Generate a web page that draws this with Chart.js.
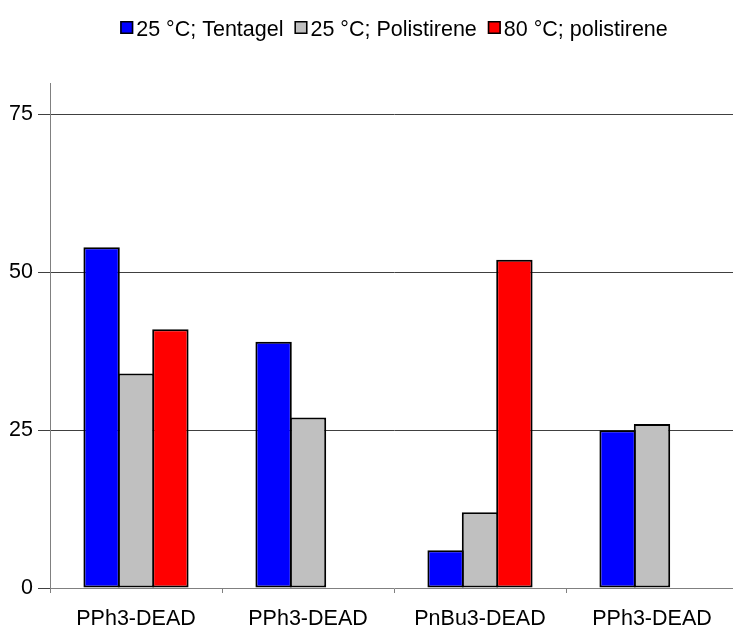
<!DOCTYPE html>
<html>
<head>
<meta charset="utf-8">
<script src="https://cdn.jsdelivr.net/npm/chart.js@4"></script>
<style>
  html, body { margin: 0; padding: 0; overflow: hidden; background: #fff; }
  #wrap { width: 741px; height: 630px; }
</style>
</head>
<body>
<div id="wrap"><canvas id="c" width="741" height="630"></canvas></div>
<script>
// Catalyst systems on the x axis
const categories = ['PPh3-DEAD', 'PPh3-DEAD', 'PnBu3-DEAD', 'PPh3-DEAD'];
// Series labels
const seriesLabels = ['25 °C; Tentagel', '25 °C; Polistirene', '80 °C; polistirene'];
// Series values
const tentagel25 = [54, 39, 6, 25];
const polistirene25 = [34, 27, 12, 26];
const polistirene80 = [41, null, 52, null];
// Value axis
const yTicks = [0, 25, 50, 75];
const yMax = 80;

const FONT_FAMILY = '"Liberation Sans", Arial, Helvetica, sans-serif';
const FONT_SIZE = 21.5;

// Legend row above the plot: small bordered swatches followed by the series name
const topLegend = {
  id: 'topLegend',
  afterDraw(chart) {
    const ctx = chart.ctx;
    ctx.save();
    ctx.font = FONT_SIZE + 'px ' + FONT_FAMILY;
    ctx.textBaseline = 'alphabetic';
    const box = 13, gapText = 3, gapItem = 11, boxTop = 21, baseline = 36;
    const items = chart.data.datasets.map(d => ({
      label: d.label, color: d.backgroundColor, w: ctx.measureText(d.label).width
    }));
    const total = items.reduce((s, it) => s + box + gapText + it.w, 0) + gapItem * (items.length - 1);
    let x = (chart.chartArea.left + chart.chartArea.right) / 2 - total / 2;
    items.forEach(it => {
      ctx.fillStyle = it.color;
      ctx.fillRect(x, boxTop, box, box);
      ctx.strokeStyle = '#000';
      ctx.lineWidth = 1.5;
      ctx.strokeRect(x + 0.75, boxTop + 0.75, box - 1.5, box - 1.5);
      ctx.fillStyle = '#000';
      ctx.fillText(it.label, x + box + gapText, baseline);
      x += box + gapText + it.w + gapItem;
    });
    ctx.restore();
  }
};

const barStyle = {
  borderColor: '#000000',
  borderWidth: 2,
  borderSkipped: false,
  categoryPercentage: 0.6,
  barPercentage: 1.058
};

new Chart(document.getElementById('c'), {
  type: 'bar',
  data: {
    labels: categories,
    datasets: [
      Object.assign({ label: seriesLabels[0], data: tentagel25, backgroundColor: '#0000FF' }, barStyle),
      Object.assign({ label: seriesLabels[1], data: polistirene25, backgroundColor: '#C0C0C0' }, barStyle),
      Object.assign({ label: seriesLabels[2], data: polistirene80, backgroundColor: '#FF0000' }, barStyle)
    ]
  },
  options: {
    responsive: false,
    animation: false,
    layout: { padding: { top: 83, right: 3, bottom: 0, left: 0 } },
    plugins: {
      legend: { display: false },
      tooltip: { enabled: false }
    },
    scales: {
      x: {
        offset: true,
        grid: {
          offset: true,
          drawOnChartArea: false,
          drawTicks: true,
          tickLength: 5,
          tickColor: '#808080',
          lineWidth: 1
        },
        border: { display: true, color: '#808080', width: 1 },
        ticks: {
          color: '#000',
          padding: 13,
          font: { family: FONT_FAMILY, size: FONT_SIZE },
          maxRotation: 0,
          autoSkip: false
        },
        afterFit: s => { s.height = 42; }
      },
      y: {
        min: 0,
        max: yMax,
        afterBuildTicks: s => { s.ticks = yTicks.map(v => ({ value: v })); },
        grid: {
          color: c => (c.tick && c.tick.value === 0 ? 'rgba(0,0,0,0)' : '#404040'),
          lineWidth: 1,
          drawTicks: true,
          tickLength: 12,
          tickColor: '#404040'
        },
        border: { display: true, color: '#808080', width: 1 },
        ticks: {
          color: '#000',
          padding: 5,
          font: { family: FONT_FAMILY, size: FONT_SIZE }
        },
        afterFit: s => { s.width = 50; }
      }
    }
  },
  plugins: [topLegend]
});
</script>
</body>
</html>
